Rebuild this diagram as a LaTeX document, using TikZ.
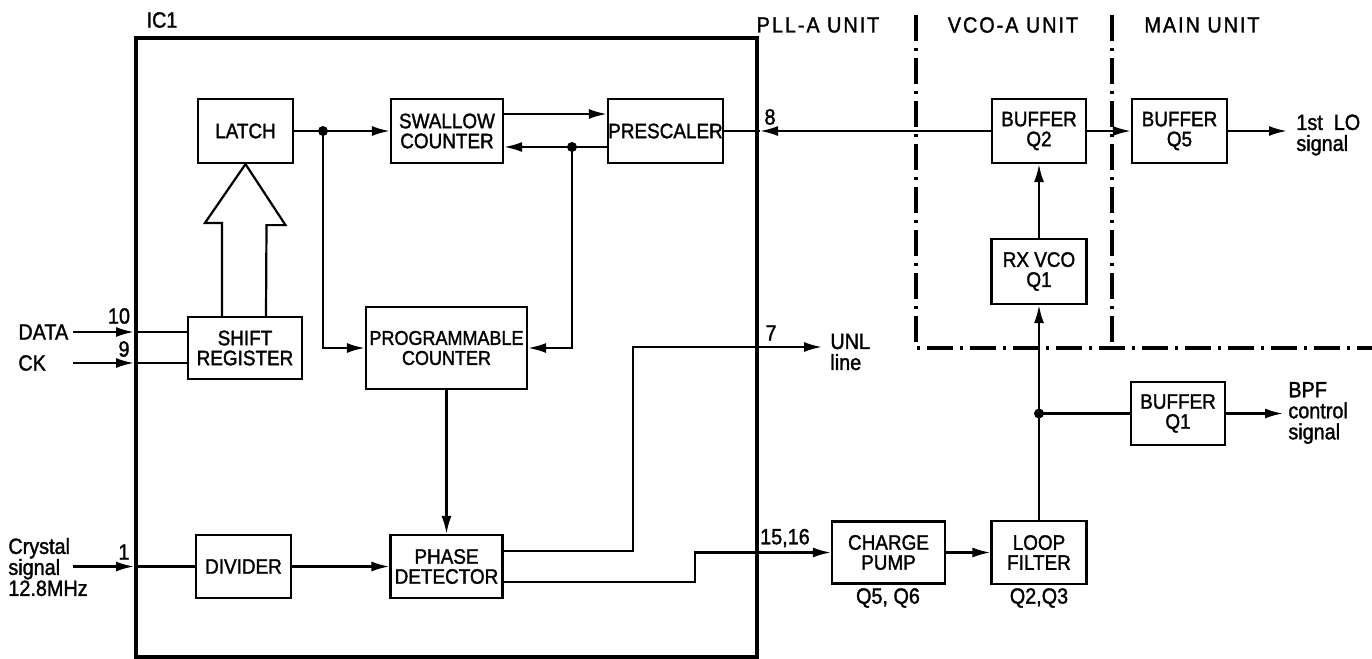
\documentclass[tikz,border=0pt]{standalone}
\usepackage{fontspec}
\setmainfont{Liberation Sans}[FakeStretch=0.9,FakeBold=1.5]
\usetikzlibrary{arrows.meta,calc}
\tikzset{
  blk/.style 2 args={draw, line width=1.1pt, minimum width=#1*0.5pt, minimum height=#2*0.5pt, inner sep=0pt, align=center, font=\fontsize{10.5}{10}\selectfont},
  conn/.style={line width=1.1pt},
  arr/.tip={Latex[length=9pt,width=5pt]},
  lbl/.style={inner sep=0pt, font=\fontsize{11}{10}\selectfont},
  unitlbl/.style={inner sep=0pt, font=\fontsize{11}{10}\selectfont\addfontfeatures{LetterSpace=9}},
  txt/.style={inner sep=0pt, align=left, font=\fontsize{11}{10.5}\selectfont},
  unitline/.style={line width=1.7pt, dash pattern=on 13pt off 3.5pt on 1.5pt off 3.5pt},
  dot/.style={circle, fill, inner sep=0pt, minimum size=5pt}
}
\begin{document}
\begin{tikzpicture}[x=0.5pt,y=-0.5pt]
\useasboundingbox (0,0) rectangle (1372,659);
% IC1 boundary
\draw[line width=1.7pt] (136,38) rectangle (757,657);
\node[lbl] (ic1) at (162,20) {IC1};
\node[unitlbl] (plla) at (818,25) {PLL-A UNIT};
\node[unitlbl] (vcoa) at (1013,25) {VCO-A UNIT};
\node[unitlbl] (mainu) at (1202,25) {MAIN UNIT};
% unit boundaries
\draw[unitline] (916,15) -- (916,348) -- (1372,348);
\draw[unitline] (1112,15) -- (1112,348);
% blocks
\node[blk={95}{64}] (latch) at (245.5,131) {LATCH};
\node[blk={112}{64}] (swallow) at (447,131) {SWALLOW\\COUNTER};
\node[blk={115}{64}] (presc) at (665.5,131) {PRESCALER};
\node[blk={114}{62}] (shift) at (245,348) {SHIFT\\REGISTER};
\node[blk={161}{82}, font=\fontsize{10}{10}\selectfont] (prog) at (446.5,348) {PROGRAMMABLE\\COUNTER};
\node[blk={95}{63}] (divider) at (243.5,566.5) {DIVIDER};
\node[blk={112}{63}] (pd) at (446.5,566.5) {PHASE\\DETECTOR};
\node[blk={94}{64}] (bufq2) at (1039,131) {BUFFER\\Q2};
\node[blk={95}{64}] (bufq5) at (1179.5,131) {BUFFER\\Q5};
\node[blk={95}{65}] (rxvco) at (1039,271.5) {RX VCO\\Q1};
\node[blk={94}{63}] (bufq1) at (1178,413.5) {BUFFER\\Q1};
\node[blk={95}{63}] (loop) at (1039,552.5) {LOOP\\FILTER};
\node[blk={113}{62}] (charge) at (888.5,552.5) {CHARGE\\PUMP};
\node[lbl] (qcp) at (888,598) {Q5, Q6};
\node[lbl] (qlf) at (1039,598) {Q2,Q3};
% external texts
\node[txt, anchor=west] (datat) at (18,332) {DATA};
\node[txt, anchor=west] (ckt) at (18,363) {CK};
\node[txt, anchor=west] (xtal) at (8,567) {Crystal\\signal\\12.8MHz};
\node[txt, anchor=west] (lot) at (1296,135) {1st\ \ LO\\signal};
\node[txt, anchor=west] (unlt) at (830,352) {UNL\\line};
\node[txt, anchor=west] (bpft) at (1288,413) {BPF\\control\\signal};
% pin numbers
\node[lbl] (n10) at (119,316) {10};
\node[lbl] (n9) at (124,349) {9};
\node[lbl] (n1) at (124,552) {1};
\node[lbl] (n8) at (770,117) {8};
\node[lbl] (n7) at (771,333) {7};
\node[lbl] (n1516) at (785,538) {15,16};
% coordinates
\coordinate (j1) at (323,131);
\coordinate (j2) at (572,147);
\coordinate (j3) at (1039,413.5);
\coordinate (p8) at (760,131);
\coordinate (c7) at (633,347);
\coordinate (unl) at (822,347);
\coordinate (c15) at (695,552.5);
\coordinate (datain) at (73,332);
\coordinate (pdata) at (134,332);
\coordinate (ckin) at (73,363);
\coordinate (pck) at (134,363);
\coordinate (xin) at (73,566.5);
\coordinate (pxt) at (134,566.5);
\coordinate (loout) at (1287,131);
\coordinate (bpfout) at (1283,413.5);
% connectors
\draw[conn,-arr] (latch) -- (swallow);
\draw[conn,-arr] (j1) |- (prog.west);
\node[dot] (dj1) at (j1) {};
\draw[conn,-arr] ([yshift=8.5pt]swallow.east) -- ([yshift=8.5pt]presc.west);
\draw[conn,-arr] ([yshift=-8pt]presc.west) -- ([yshift=-8pt]swallow.east);
\draw[conn,-arr] (j2) |- (prog.east);
\node[dot] (dj2) at (j2) {};
\draw[conn] (p8) -- (presc.east);
\draw[conn,-arr] (bufq2.west) -- (p8);
\draw[conn,-arr] (bufq2) -- (bufq5);
\draw[conn,-arr] (bufq5) -- (loout);
\draw[conn,-arr] (rxvco) -- (bufq2);
\draw[conn,-arr] (loop) -- (rxvco);
\draw[conn] (j3) -- (bufq1);
\node[dot] (dj3) at (j3) {};
\draw[conn,-arr] (bufq1) -- (bpfout);
\draw[conn,-arr] (charge) -- (loop);
\draw[conn,-arr] ([yshift=7.75pt]pd.east) -| (c7) -- (unl);
\draw[conn,-arr] ([yshift=-7.75pt]pd.east) -| (c15) -- (charge.west);
\draw[conn,-arr] (prog) -- (pd);
\draw[conn,-arr] (divider) -- (pd);
\draw[conn,-arr] (xin) -- (pxt);
\draw[conn] (pxt) -- (divider.west);
\draw[conn,-arr] (datain) -- (pdata);
\draw[conn] (pdata) -- ([yshift=8pt]shift.west);
\draw[conn,-arr] (ckin) -- (pck);
\draw[conn] (pck) -- ([yshift=-7.5pt]shift.west);
% hollow bus arrow
\draw[line width=1.1pt, line join=miter] ([xshift=-11.5pt]shift.north) -- ++(0,-93) -- ++(-17,0) -- (latch.south) -- ++(40,61) -- ++(-19,0) -- ([xshift=10.5pt]shift.north);
\end{tikzpicture}
\end{document}
